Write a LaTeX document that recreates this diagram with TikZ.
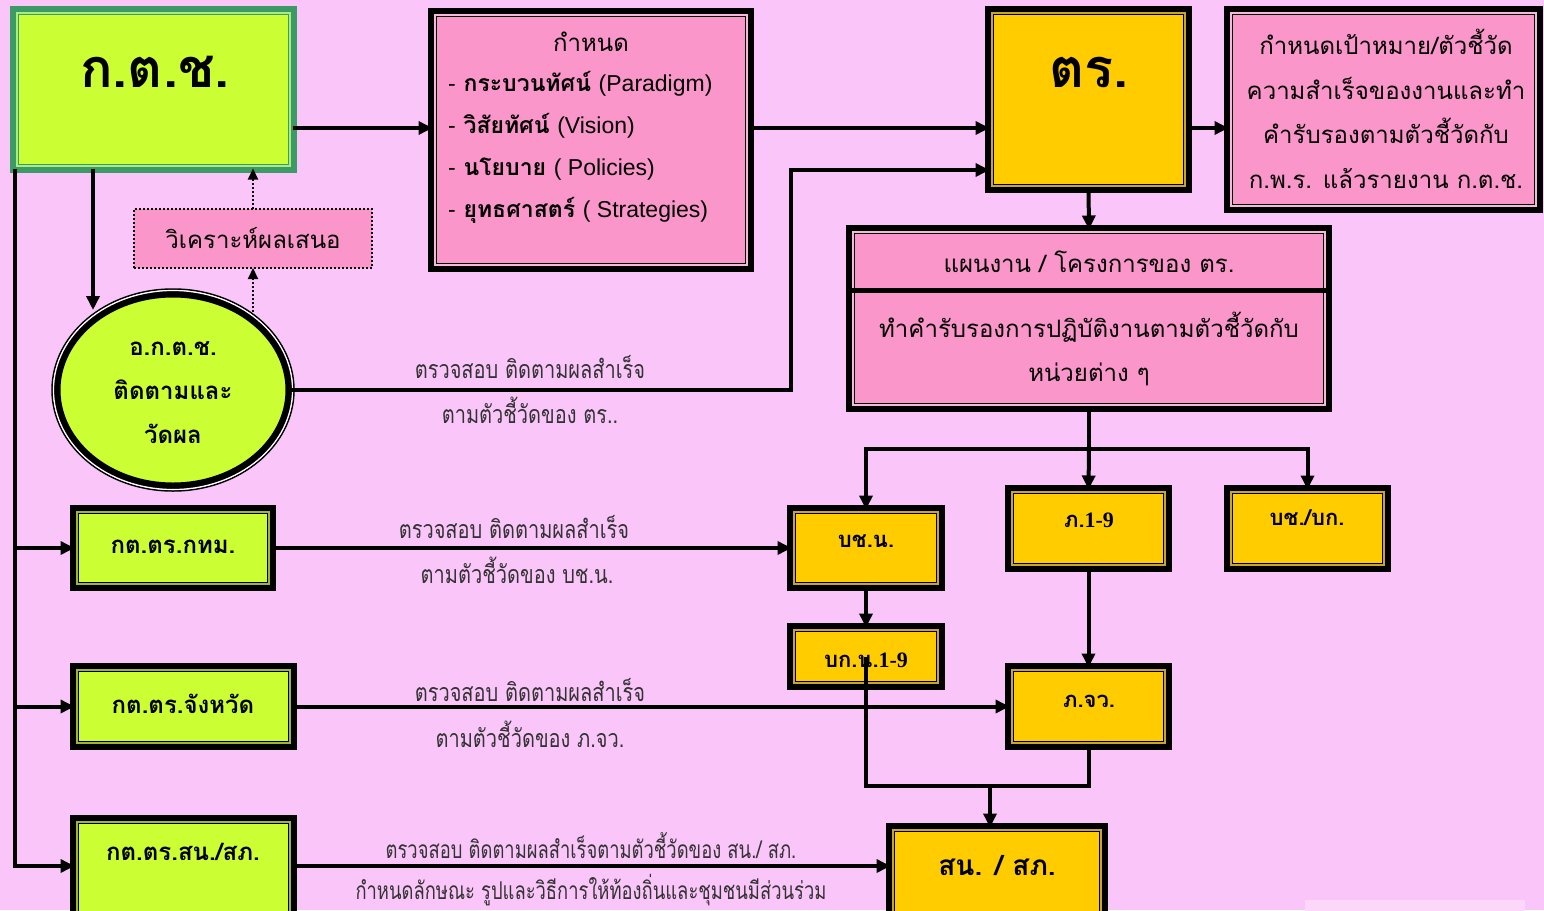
\documentclass[tikz,border=0pt]{standalone}
\usepackage{fontspec}
\setmainfont{Loma}[Script=Thai]
\newfontfamily\latf{Liberation Sans}
\newfontfamily\serf{Liberation Serif}
\newfontfamily\condf[Script=Thai,FakeStretch=0.8]{Loma}
\newfontfamily\condg[Script=Thai,FakeStretch=0.75]{Loma}
\usetikzlibrary{calc,arrows.meta,shapes.geometric}
\definecolor{bg}{RGB}{250,198,250}
\definecolor{lime}{RGB}{204,255,51}
\definecolor{pk}{RGB}{250,150,202}
\definecolor{pkl}{RGB}{245,185,220}
\definecolor{yl}{RGB}{255,204,0}
\definecolor{gg}{RGB}{60,154,100}
\definecolor{lg}{RGB}{170,235,130}
\definecolor{gold}{RGB}{200,165,50}
\definecolor{olv}{RGB}{160,180,60}
\definecolor{faint}{RGB}{252,215,250}
\newcommand\inframe[2]{\draw[#2, line width=1.8pt] ($(#1.north west)+(2.2,2.2)$) rectangle ($(#1.south east)+(-2.2,-2.2)$);}
\begin{document}
\begin{tikzpicture}[x=1pt,y=-1pt,
  conn/.style={line width=4pt, draw=black},
  arr/.style={conn, -{Triangle[length=14pt,width=13pt]}},
  darr/.style={line width=2pt, dotted, -{Triangle[length=11pt,width=10pt]}},
  box/.style={rectangle, inner sep=0pt, outer sep=0pt, line width=9pt},
  ybox/.style={box, draw=black, fill=yl},
  gbox/.style={box, draw=black, fill=lime},
  pbox/.style={box, draw=black, fill=pk},
  ttl/.style={font=\fontsize{54}{54}\selectfont\bfseries, inner sep=0pt},
  rtxt/.style={font=\fontsize{24}{44.5}\selectfont, align=center, inner sep=0pt},
  btxt/.style={font=\fontsize{24}{44}\selectfont\bfseries, align=center, inner sep=0pt},
  ytxt/.style={font=\fontsize{22}{26}\selectfont\bfseries, inner sep=0pt},
  ltxt/.style={font=\condf\fontsize{25}{30}\selectfont, inner sep=0pt, text=black!80},
  ltxtb/.style={font=\condg\fontsize{24.5}{30}\selectfont, inner sep=0pt, text=black!80},
]
\fill[bg] (0,0) rectangle (1544,910);
\clip (0,0) rectangle (1544,910);
\fill[faint] (1305,900) rectangle (1525,915);

% top row
\node[box, draw=gg, fill=lime, minimum width=278, minimum height=158] (kts) at (153.5,89.5) {};
\inframe{kts}{lg}
\node[ttl] (kts-t) at (155,72) {ก.ต.ช.};

\node[pbox, minimum width=317, minimum height=255] (def) at (591,140) {};
\inframe{def}{pkl}
\node[rtxt] (def-h) at (591,42) {กำหนด};
\node[btxt, align=left, anchor=west, font=\fontsize{23}{42}\selectfont\bfseries] (def-l) at (448,147)
  {{\latf\mdseries -} กระบวนทัศน์ {\latf\mdseries (Paradigm)}\\
   {\latf\mdseries -} วิสัยทัศน์ {\latf\mdseries (Vision)}\\
   {\latf\mdseries -} นโยบาย {\latf\mdseries ( Policies)}\\
   {\latf\mdseries -} ยุทธศาสตร์ {\latf\mdseries ( Strategies)}};

\node[ybox, minimum width=198, minimum height=178] (tr) at (1088.5,99.5) {};
\inframe{tr}{gold}
\node[ttl] (tr-t) at (1089,72) {ตร.};

\node[pbox, minimum width=310, minimum height=198] (goal) at (1383.5,109.5) {};
\inframe{goal}{pkl}
\node[rtxt] (goal-t) at (1386,109) {กำหนดเป้าหมาย/ตัวชี้วัด\\ความสำเร็จของงานและทำ\\คำรับรองตามตัวชี้วัดกับ\\ก.พ.ร. แล้วรายงาน ก.ต.ช.};

\node[pbox, minimum width=477, minimum height=178] (plan) at (1089,318.5) {};
\inframe{plan}{pkl}
\draw[line width=5pt] (plan.west |- 0,290) -- (plan.east |- 0,290);
\node[rtxt] (plan-h) at (1089,262) {แผนงาน / โครงการของ ตร.};
\node[rtxt] (plan-b) at (1089,349) {ทำคำรับรองการปฏิบัติงานตามตัวชี้วัดกับ\\หน่วยต่าง ๆ};

% analysis box and circle
\node[rectangle, draw=black, dotted, line width=2pt, fill=pk, minimum width=238, minimum height=59, inner sep=0pt, outer sep=0pt] (ana) at (253,238.5) {};
\node[rtxt] (ana-t) at (253,238) {วิเคราะห์ผลเสนอ};

\node[ellipse, draw=black, line width=7pt, fill=lime, minimum width=232, minimum height=192, inner sep=0pt, outer sep=0pt] (circ) at (173,390) {};
\draw[line width=1.5pt] (circ.center) ellipse [x radius=121, y radius=101];
\draw[white, line width=1.2pt] (circ.center) ellipse [x radius=119.5, y radius=99.5];
\node[btxt] (circ-t) at (173,393) {อ.ก.ต.ช.\\ติดตามและ\\วัดผล};

% green boxes
\node[gbox, minimum width=197, minimum height=77] (bkk) at (173,548) {};
\inframe{bkk}{olv}
\node[btxt] (bkk-t) at (173,547) {กต.ตร.กทม.};
\node[gbox, minimum width=218, minimum height=78] (prov) at (183.5,706.5) {};
\inframe{prov}{olv}
\node[btxt] (prov-t) at (183,704) {กต.ตร.จังหวัด};
\node[gbox, minimum width=218, minimum height=101] (stn) at (183.5,870) {};
\inframe{stn}{olv}
\node[btxt] (stn-t) at (183,852) {กต.ตร.สน./สภ.};

% yellow boxes
\node[ybox, minimum width=149, minimum height=77] (bcn) at (866,548) {};
\inframe{bcn}{gold}
\node[ytxt] (bcn-t) at (866,541) {บช.น.};
\node[ybox, minimum width=149, minimum height=58] (bkn) at (866,656.5) {};
\inframe{bkn}{gold}
\node[ybox, minimum width=158, minimum height=78] (p19) at (1088.5,528.5) {};
\inframe{p19}{gold}
\node[ytxt] (p19-t) at (1089,520) {ภ.{\serf 1-9}};
\node[ybox, minimum width=158, minimum height=78] (bcb) at (1307.5,528.5) {};
\inframe{bcb}{gold}
\node[ytxt] (bcb-t) at (1307,518) {บช./บก.};
\node[ybox, minimum width=158, minimum height=78] (pjw) at (1088.5,706.5) {};
\inframe{pjw}{gold}
\node[ytxt] (pjw-t) at (1089,701) {ภ.จว.};
\node[ybox, minimum width=213, minimum height=97] (scn) at (997,876) {};
\inframe{scn}{gold}
\node[ytxt, font=\fontsize{28}{30}\selectfont\bfseries] (scn-t) at (997,866) {สน. / สภ.};

% connectors
\draw[arr] (kts.east |- 0,128) -- (def.west |- 0,128);
\draw[arr] (def.east |- 0,128) -- (tr.west |- 0,128);
\draw[arr] (tr.east |- 0,128) -- (goal.west |- 0,128);
\draw[arr] (tr.south) -- (plan.north);
\coordinate (bend) at (791,170);
\draw[arr] (circ.east) -| (bend) -- (tr.west |- bend);
\coordinate (c1) at (93,310);
\draw[arr] (kts.south -| c1) -- (c1);
\coordinate (c2) at (253,312);
\draw[darr] (c2) -- (ana.south);
\draw[darr] (ana.north) -- (kts.south -| ana.north);

\coordinate (lb) at (15,866);
\draw[arr] (kts.south -| lb) -- (lb) -- (stn.west |- lb);
\draw[arr] (lb |- bkk) -- (bkk.west);
\draw[arr] (lb |- prov) -- (prov.west);

\draw[arr] (bkk.east) -- (bcn.west);
\draw[arr] (prov.east) -- (pjw.west);
\draw[arr] (stn.east |- lb) -- (scn.west |- lb);

\coordinate (j) at (1089,449);
\draw[conn] (plan.south) -- (j);
\draw[arr] (j) -| (bcn.north);
\draw[arr] (j) -| (bcb.north);
\draw[arr] (j) -- (p19.north);
\draw[arr] (bcn.south) -- (bkn.north);
\draw[arr] (p19.south) -- (pjw.north);

\node[ytxt] (bkn-t) at (866,660) {บก.น.{\serf 1-9}};
\coordinate (m) at (990,786);
\draw[conn] (bkn.center) -- (bkn.center |- m) -- (pjw.south |- m) -- (pjw.south);
\draw[arr] (m) -- (m |- scn.north);

% connector labels
\node[ltxt] (l1a) at (530,367) {ตรวจสอบ ติดตามผลสำเร็จ};
\node[ltxt] (l1b) at (530,410) {ตามตัวชี้วัดของ ตร..};
\node[ltxt] (l2a) at (514,527) {ตรวจสอบ ติดตามผลสำเร็จ};
\node[ltxt] (l2b) at (517,570) {ตามตัวชี้วัดของ บช.น.};
\node[ltxt] (l3a) at (530,690) {ตรวจสอบ ติดตามผลสำเร็จ};
\node[ltxt] (l3b) at (530,734) {ตามตัวชี้วัดของ ภ.จว.};
\node[ltxtb] (l4a) at (591,846) {ตรวจสอบ ติดตามผลสำเร็จตามตัวชี้วัดของ สน./ สภ.};
\node[ltxtb] (l4b) at (591,890) {กำหนดลักษณะ รูปและวิธีการให้ท้องถิ่นและชุมชนมีส่วนร่วม};
\end{tikzpicture}
\end{document}
